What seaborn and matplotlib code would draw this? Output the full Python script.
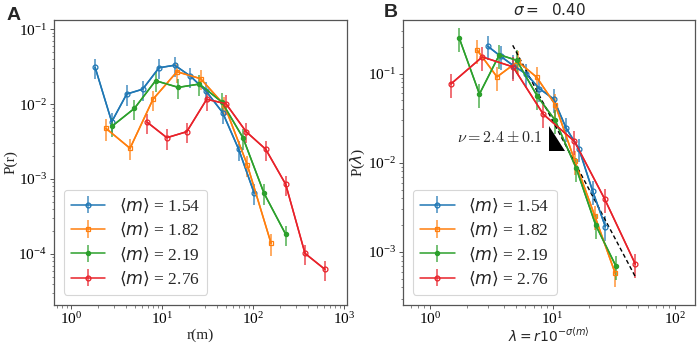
import numpy as np
import pandas as pd
import matplotlib
matplotlib.use("Agg")
import matplotlib.pyplot as plt
import seaborn as sns

# ---------------- data ----------------
labels = ["1.54", "1.82", "2.19", "2.76"]
colors = ["#1f77b4", "#ff7f0e", "#2ca02c", "#e8222a"]
markers = ["o", "s", ".", "o"]

# Panel A : P(r) vs r
blue_A_x = [1.84, 2.8, 4.09, 6.13, 9.27, 13.8, 20.5, 30.2, 46.4, 69.6, 103]
blue_A_y = [0.0308, 0.0058, 0.0136, 0.0158, 0.0305, 0.033, 0.0236, 0.0151, 0.0077, 0.0025, 0.00065]
blue_A_e = [0.0092, 0.0017, 0.0041, 0.0047, 0.0092, 0.0099, 0.0071, 0.0045, 0.0023, 0.00075, 0.0002]

orange_A_x = [2.42, 4.45, 7.96, 14.6, 26.6, 48.4, 86.5, 158]
orange_A_y = [0.00474, 0.00257, 0.0116, 0.027, 0.0218, 0.0097, 0.00155, 0.000139]
orange_A_e = [0.0015, 0.0008, 0.0035, 0.0081, 0.0065, 0.0029, 0.00047, 0.000045]

green_A_x = [2.84, 4.97, 8.5, 15.1, 25.7, 45.3, 77.6, 132, 229]
green_A_y = [0.0051, 0.00875, 0.0205, 0.0167, 0.0185, 0.0107, 0.00356, 0.00065, 0.000183]
green_A_e = [0.0015, 0.0026, 0.0062, 0.005, 0.0056, 0.0032, 0.0011, 0.0002, 0.000055]

red_A_x = [6.84, 11.3, 18.7, 31, 50.5, 83.8, 138, 229, 373, 617]
red_A_y = [0.00575, 0.00356, 0.00428, 0.0116, 0.0101, 0.0043, 0.0025, 0.00085, 0.000102, 0.0000625]
red_A_e = [0.0017, 0.0011, 0.0013, 0.0035, 0.003, 0.0013, 0.00075, 0.00026, 0.000031, 0.000019]

# Panel B : P(lambda) vs lambda
blue_B_x = [2.96, 3.76, 4.79, 6.11, 7.8, 10.2, 12.9, 16.4, 21.3, 27]
blue_B_y = [0.203, 0.157, 0.123, 0.099, 0.068, 0.052, 0.0245, 0.0144, 0.00477, 0.00192]
blue_B_e = [0.06, 0.047, 0.037, 0.03, 0.02, 0.016, 0.0074, 0.0043, 0.0014, 0.0006]

orange_B_x = [2.43, 3.52, 5.2, 7.43, 10.5, 15.2, 22.2, 32.4]
orange_B_y = [0.183, 0.092, 0.137, 0.091, 0.045, 0.0105, 0.0025, 0.00058]
orange_B_e = [0.055, 0.028, 0.041, 0.027, 0.0135, 0.0032, 0.00075, 0.00018]

green_B_x = [1.73, 2.53, 3.68, 5.1, 7.5, 10.5, 15.6, 22.5, 32.8]
green_B_y = [0.251, 0.059, 0.163, 0.141, 0.056, 0.030, 0.0087, 0.002, 0.0007]
green_B_e = [0.075, 0.018, 0.049, 0.042, 0.017, 0.009, 0.0026, 0.0006, 0.00021]

red_B_x = [1.48, 2.67, 4.76, 8.41, 15.1, 26.7, 47.4]
red_B_y = [0.0766, 0.154, 0.119, 0.035, 0.0174, 0.0039, 0.00073]
red_B_e = [0.023, 0.046, 0.036, 0.0105, 0.0052, 0.0012, 0.00022]

fit_x = [4.73, 47.4]
fit_y = [0.208, 0.000527]

tri_x = [9.36, 9.36, 12.65]
tri_y = [0.026, 0.0134, 0.0134]

nu_text = r"$\nu = 2.4 \pm 0.1$"
sigma_title = r"$\sigma = $  0.40"

series_A = [(blue_A_x, blue_A_y, blue_A_e), (orange_A_x, orange_A_y, orange_A_e),
            (green_A_x, green_A_y, green_A_e), (red_A_x, red_A_y, red_A_e)]
series_B = [(blue_B_x, blue_B_y, blue_B_e), (orange_B_x, orange_B_y, orange_B_e),
            (green_B_x, green_B_y, green_B_e), (red_B_x, red_B_y, red_B_e)]

# ---------------- style ----------------
sns.set_theme(style="ticks")
plt.rcParams["font.family"] = ["Liberation Serif", "DejaVu Serif"]
plt.rcParams["mathtext.fontset"] = "dejavusans"
plt.rcParams["axes.edgecolor"] = "#555555"
plt.rcParams["xtick.color"] = "#555555"
plt.rcParams["ytick.color"] = "#555555"
plt.rcParams["xtick.labelcolor"] = "black"
plt.rcParams["ytick.labelcolor"] = "black"

fig = plt.figure(figsize=(6.99, 3.46), dpi=100)
axA = fig.add_axes([0.0773, 0.1199, 0.4191, 0.8221])
axB = fig.add_axes([0.577, 0.1199, 0.4173, 0.8221])


def draw(ax, series):
    for (x, y, e), lab, c, m in zip(series, labels, colors, markers):
        df = pd.DataFrame({"x": x, "y": y})
        sns.lineplot(data=df, x="x", y="y", ax=ax, color=c, lw=1.1, sort=False,
                     estimator=None, legend=False)
        ms = 6 if m == "." else 3.5
        eb = ax.errorbar(x, y, yerr=e, fmt=m, color=c, ms=ms, mfc="none" if m != "." else c,
                         mew=0.9, elinewidth=1.4, capsize=0, ls="-", lw=1.1,
                         label=r"$\langle m\rangle$ = " + lab)
        for bar in eb[2]:
            bar.set_alpha(0.65)
    ax.set_xscale("log")
    ax.set_yscale("log")
    for s in ax.spines.values():
        s.set_linewidth(0.9)
    ax.tick_params(which="major", length=3, width=0.7, labelsize=11, pad=2)
    ax.tick_params(which="minor", length=1.8, width=0.5)
    leg = ax.legend(loc="lower left", fontsize=12.5, handlelength=2.0, labelspacing=0.35,
                    borderpad=0.4, handletextpad=0.8, frameon=True, fancybox=True,
                    borderaxespad=0.55)
    leg.get_frame().set_edgecolor("#cccccc")
    leg.get_frame().set_linewidth(0.8)


draw(axA, series_A)
axA.set_xlim(0.65, 1080)
axA.set_ylim(2.12e-5, 0.132)
axA.set_xlabel("r(m)", fontsize=11, labelpad=1)
axA.set_ylabel("P(r)", fontsize=11, labelpad=1)

draw(axB, series_B)
sns.lineplot(x=fit_x, y=fit_y, ax=axB, color="black", lw=1.0, linestyle=(0, (3, 2)),
             legend=False)
axB.fill(tri_x, tri_y, color="black", lw=0)
axB.text(8.3, 0.019, nu_text, ha="right", va="center", fontsize=11.5,
         math_fontfamily="cm")
axB.set_xlim(0.605, 145.6)
axB.set_ylim(2.57e-4, 0.399)
axB.set_xlabel(r"$\lambda = r10^{-\sigma\langle m\rangle}$", fontsize=10, labelpad=0)
axB.set_ylabel(r"P($\lambda$)", fontsize=11, labelpad=1)
axB.set_title(sigma_title, fontsize=11, family="DejaVu Sans", pad=4)

fig.text(0.02, 0.955, "A", fontsize=14, fontweight="bold", family="Liberation Sans",
         ha="center", va="center")
fig.text(0.559, 0.963, "B", fontsize=14, fontweight="bold", family="Liberation Sans",
         ha="center", va="center")

fig.savefig("out.png", dpi=100)
